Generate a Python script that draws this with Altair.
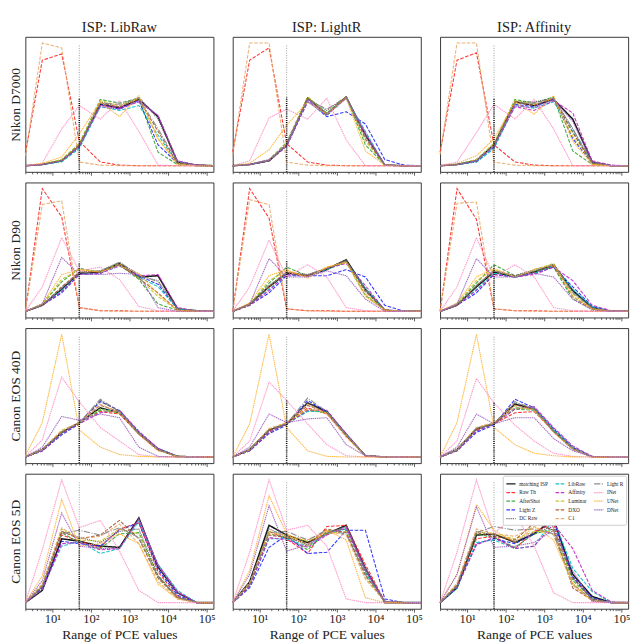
import altair as alt
import pandas as pd

FONT = "Liberation Serif"

# PCE bin positions (x, log scale) and the decision threshold
PCE_BINS = [2, 5.5, 17.5, 50, 175, 550, 1750, 5500, 17500, 55000, 150000]
THRESHOLD = 50
MAJOR_TICKS = [10, 100, 1000, 10000, 100000]
MAJOR_LABELS = ["10¹", "10²", "10³", "10⁴", "10⁵"]

CAMERAS = ["Nikon D7000", "Nikon D90", "Canon EOS 40D", "Canon EOS 5D"]
ISPS = ["LibRaw", "LightR", "Affinity"]

SERIES = ["matching ISP", "Raw Th", "AfterShot", "Light Z", "DC Raw",
          "LibRaw", "Affinity", "Luminar", "DXO", "C1",
          "Light R", "INet", "UNet", "DNet"]
COLORS = ["#000000", "#ff2020", "#2ca02c", "#1f1fff", "#555555",
          "#00bfbf", "#c020c0", "#c8c020", "#a0522d", "#e8a868",
          "#808080", "#ff8fc8", "#ffb030", "#9a5fc0"]
DASHES = [[1, 0], [3.7, 1.6], [3.7, 1.6], [3.7, 1.6], [1.2, 1],
          [3.7, 1.6], [3.7, 1.6], [3.7, 1.6], [3.7, 1.6], [3.7, 1.6],
          [6.4, 1.6, 1, 1.6], [1.5, 0.7], [1.5, 0.7], [1.5, 0.7]]

# frequency values (each panel normalised so its highest curve = 100)
D7000_LIBRAW = {
    "matching ISP": [0, 1, 4, 16, 50, 47, 54, 40, 3, 0.5, 0],
    "Raw Th": [10, 86, 91, 20, 3, 0.5, 0, 0, 0, 0, 0],
    "AfterShot": [0, 1, 5, 18, 54, 51, 55, 11, 1, 0, 0],
    "Light Z": [0, 1, 4, 15, 50, 46, 53, 17, 2, 0, 0],
    "DC Raw": [0, 1, 4, 16, 52, 48, 56, 38, 3, 0.5, 0],
    "LibRaw": [0, 1, 3, 14, 48, 45, 49, 25, 2, 0, 0],
    "Affinity": [0, 1, 4, 16, 49, 47, 52, 41, 4, 0.5, 0],
    "Luminar": [0, 1, 5, 18, 53, 49, 55, 22, 2, 0, 0],
    "DXO": [0, 1, 4, 17, 51, 48, 54, 28, 2, 0, 0],
    "C1": [8, 100, 96, 3, 0.5, 0, 0, 0, 0, 0, 0],
    "Light R": [0, 1, 4, 16, 51, 50, 55, 30, 3, 0.5, 0],
    "INet": [0, 2, 30, 49, 38, 53, 28, 0.5, 0, 0, 0],
    "UNet": [0, 2, 7, 26, 52, 40, 57, 22, 1, 0, 0],
    "DNet": [0, 1, 4, 16, 48, 46, 53, 41, 4, 0.5, 0],
}
D7000_LIGHTR = {
    "matching ISP": [0, 1, 4, 17, 55, 42, 56, 25, 0.5, 0, 0],
    "Raw Th": [11, 86, 96, 18, 3, 0.5, 0, 0, 0, 0, 0],
    "AfterShot": [0, 1, 5, 19, 56, 43, 56, 17, 0.5, 0, 0],
    "Light Z": [0, 1, 4, 16, 53, 40, 44, 34, 5, 0.5, 0],
    "DC Raw": [0, 1, 4, 17, 55, 45, 56, 24, 0.5, 0, 0],
    "LibRaw": [0, 1, 4, 16, 52, 41, 55, 28, 0.5, 0, 0],
    "Affinity": [0, 1, 4, 16, 52, 42, 55, 26, 0.5, 0, 0],
    "Luminar": [0, 1, 5, 18, 56, 42, 56, 20, 0.5, 0, 0],
    "DXO": [0, 1, 4, 17, 55, 41, 56, 22, 0.5, 0, 0],
    "C1": [9, 100, 100, 3, 0.5, 0, 0, 0, 0, 0, 0],
    "Light R": [0, 1, 4, 17, 54, 46, 56, 24, 0.5, 0, 0],
    "INet": [0, 4, 39, 46, 38, 55, 21, 0, 0, 0, 0],
    "UNet": [0, 2, 13, 33, 52, 42, 55, 12, 0.5, 0, 0],
    "DNet": [0, 1, 5, 17, 54, 42, 55, 27, 0.5, 0, 0],
}
D7000_AFFINITY = {
    "matching ISP": [0, 1, 4, 17, 52, 49, 54, 38, 3, 0, 0],
    "Raw Th": [11, 86, 92, 17, 3, 0.5, 0, 0, 0, 0, 0],
    "AfterShot": [0, 1, 5, 18, 54, 51, 56, 12, 1, 0, 0],
    "Light Z": [0, 1, 3, 15, 50, 48, 55, 22, 2, 0, 0],
    "DC Raw": [0, 1, 4, 16, 52, 52, 55, 30, 2, 0, 0],
    "LibRaw": [0, 1, 3, 14, 49, 47, 52, 28, 2, 0, 0],
    "Affinity": [0, 1, 4, 16, 48, 45, 53, 43, 4, 0.5, 0],
    "Luminar": [0, 1, 5, 18, 53, 50, 55, 24, 2, 0, 0],
    "DXO": [0, 1, 4, 17, 52, 49, 55, 27, 2, 0, 0],
    "C1": [9, 100, 100, 3, 0.5, 0, 0, 0, 0, 0, 0],
    "Light R": [0, 1, 4, 16, 51, 51, 55, 30, 3, 0, 0],
    "INet": [0, 3, 27, 50, 38, 54, 30, 0, 0, 0, 0],
    "UNet": [0, 2, 8, 22, 52, 42, 57, 20, 1, 0, 0],
    "DNet": [0, 1, 4, 16, 49, 47, 54, 36, 3, 0, 0],
}
D90_LIBRAW = {
    "matching ISP": [0, 5, 18, 31, 32, 39, 28, 29, 2, 0.5, 0],
    "Raw Th": [0, 100, 77, 3, 0.5, 0.5, 0, 0, 0, 0, 0],
    "AfterShot": [0, 6, 24, 35, 32, 38, 26, 6, 1, 0, 0],
    "Light Z": [0, 5, 15, 30, 31, 37, 29, 22, 2, 0, 0],
    "DC Raw": [0, 5, 19, 32, 33, 40, 29, 25, 2, 0.5, 0],
    "LibRaw": [0, 5, 17, 30, 31, 38, 28, 20, 2, 0.5, 0],
    "Affinity": [0, 5, 16, 30, 31, 38, 29, 30, 3, 0.5, 0],
    "Luminar": [0, 6, 26, 34, 32, 39, 27, 12, 1, 0, 0],
    "DXO": [0, 5, 20, 32, 32, 38, 27, 15, 1, 0, 0],
    "C1": [0, 87, 90, 3, 0.5, 0, 0, 0, 0, 0, 0],
    "Light R": [0, 5, 19, 31, 33, 40, 30, 24, 2, 0.5, 0],
    "INet": [0, 20, 60, 33, 36, 26, 4, 0.5, 0, 0, 0],
    "UNet": [0, 6, 30, 34, 32, 37, 31, 14, 1, 0, 0],
    "DNet": [0, 6, 44, 30, 30, 31, 30, 3, 0, 0, 0],
}
D90_LIGHTR = {
    "matching ISP": [0, 6, 20, 31, 29, 34, 42, 18, 1, 0, 0],
    "Raw Th": [0, 100, 76, 2, 0.5, 0.5, 0, 0, 0, 0, 0],
    "AfterShot": [0, 6, 23, 36, 29, 35, 40, 13, 1, 0, 0],
    "Light Z": [0, 5, 15, 29, 29, 29, 34, 28, 5, 0, 0],
    "DC Raw": [0, 6, 21, 32, 30, 35, 42, 17, 1, 0, 0],
    "LibRaw": [0, 5, 18, 30, 29, 34, 40, 19, 1, 0, 0],
    "Affinity": [0, 5, 17, 30, 29, 35, 39, 21, 1, 0, 0],
    "Luminar": [0, 6, 25, 33, 28, 36, 40, 14, 1, 0, 0],
    "DXO": [0, 5, 20, 32, 29, 35, 41, 16, 1, 0, 0],
    "C1": [0, 91, 87, 2, 0.5, 0, 0, 0, 0, 0, 0],
    "Light R": [0, 6, 21, 31, 30, 35, 41, 18, 1, 0, 0],
    "INet": [0, 20, 58, 28, 38, 28, 3, 0.5, 0, 0, 0],
    "UNet": [0, 7, 29, 34, 27, 36, 40, 12, 1, 0, 0],
    "DNet": [0, 6, 43, 28, 28, 33, 29, 10, 0, 0, 0],
}
D90_AFFINITY = {
    "matching ISP": [0, 5, 20, 32, 28, 32, 38, 17, 3, 0, 0],
    "Raw Th": [0, 100, 75, 2, 0.5, 0.5, 0, 0, 0, 0, 0],
    "AfterShot": [0, 6, 23, 38, 29, 33, 36, 10, 2, 0, 0],
    "Light Z": [0, 5, 15, 30, 28, 31, 36, 20, 4, 0, 0],
    "DC Raw": [0, 5, 21, 33, 29, 34, 38, 16, 3, 0, 0],
    "LibRaw": [0, 5, 18, 31, 28, 31, 37, 18, 4, 0, 0],
    "Affinity": [0, 5, 17, 30, 28, 30, 36, 25, 5, 0.5, 0],
    "Luminar": [0, 6, 25, 34, 28, 34, 39, 14, 2, 0, 0],
    "DXO": [0, 5, 21, 33, 29, 32, 37, 12, 2, 0, 0],
    "C1": [0, 88, 89, 2, 0.5, 0, 0, 0, 0, 0, 0],
    "Light R": [0, 5, 21, 33, 29, 33, 38, 15, 3, 0, 0],
    "INet": [0, 20, 60, 28, 38, 28, 3, 0.5, 0, 0, 0],
    "UNet": [0, 7, 28, 35, 28, 34, 38, 12, 2, 0, 0],
    "DNet": [0, 6, 43, 28, 28, 31, 28, 10, 1, 0, 0],
}
EOS40D_LIBRAW = {
    "matching ISP": [0, 6, 20, 28, 40, 36, 19, 6, 0.5, 0, 0],
    "Raw Th": [0, 5, 19, 28, 37, 35, 19, 6, 0.5, 0, 0],
    "AfterShot": [0, 6, 21, 28, 38, 36, 20, 6, 0.5, 0, 0],
    "Light Z": [0, 5, 18, 27, 45, 38, 20, 7, 0.5, 0, 0],
    "DC Raw": [0, 6, 20, 28, 46, 37, 20, 6, 0.5, 0, 0],
    "LibRaw": [0, 5, 19, 27, 39, 37, 20, 7, 0.5, 0, 0],
    "Affinity": [0, 5, 19, 27, 36, 38, 21, 7, 0.5, 0, 0],
    "Luminar": [0, 6, 21, 28, 39, 36, 19, 6, 0.5, 0, 0],
    "DXO": [0, 6, 20, 28, 42, 37, 19, 6, 0.5, 0, 0],
    "C1": [0, 6, 22, 28, 43, 36, 18, 5, 0.5, 0, 0],
    "Light R": [0, 6, 20, 28, 47, 37, 19, 6, 0.5, 0, 0],
    "INet": [0, 14, 65, 45, 24, 13, 2, 0, 0, 0, 0],
    "UNet": [1, 28, 100, 22, 8, 2, 0.5, 0, 0, 0, 0],
    "DNet": [0, 8, 33, 30, 35, 32, 8, 0.5, 0, 0, 0],
}
EOS40D_LIGHTR = {
    "matching ISP": [0, 6, 22, 27, 44, 37, 18, 1, 0, 0, 0],
    "Raw Th": [0, 5, 21, 27, 40, 35, 18, 1, 0, 0, 0],
    "AfterShot": [0, 6, 22, 27, 38, 36, 18, 1, 0, 0, 0],
    "Light Z": [0, 5, 19, 26, 46, 37, 19, 1, 0, 0, 0],
    "DC Raw": [0, 6, 22, 27, 44, 36, 18, 1, 0, 0, 0],
    "LibRaw": [0, 5, 20, 27, 37, 37, 18, 1, 0, 0, 0],
    "Affinity": [0, 5, 20, 27, 38, 38, 19, 1, 0, 0, 0],
    "Luminar": [0, 6, 23, 28, 39, 36, 18, 1, 0, 0, 0],
    "DXO": [0, 6, 22, 27, 42, 36, 17, 1, 0, 0, 0],
    "C1": [0, 6, 23, 28, 43, 35, 16, 1, 0, 0, 0],
    "Light R": [0, 6, 22, 27, 48, 37, 18, 1, 0, 0, 0],
    "INet": [0, 13, 61, 46, 27, 10, 1, 0, 0, 0, 0],
    "UNet": [0, 27, 100, 24, 5, 0.5, 0, 0, 0, 0, 0],
    "DNet": [0, 8, 35, 28, 31, 32, 10, 1, 0, 0, 0],
}
EOS40D_AFFINITY = {
    "matching ISP": [0, 6, 23, 27, 43, 39, 21, 7, 0, 0, 0],
    "Raw Th": [0, 5, 22, 27, 36, 37, 21, 7, 0, 0, 0],
    "AfterShot": [0, 6, 23, 27, 39, 38, 22, 7, 0, 0, 0],
    "Light Z": [0, 5, 20, 26, 47, 40, 23, 8, 0, 0, 0],
    "DC Raw": [0, 6, 23, 27, 44, 39, 22, 7, 0, 0, 0],
    "LibRaw": [0, 5, 21, 27, 40, 40, 22, 8, 0, 0, 0],
    "Affinity": [0, 5, 21, 27, 39, 41, 24, 9, 0.5, 0, 0],
    "Luminar": [0, 6, 24, 28, 40, 39, 21, 7, 0, 0, 0],
    "DXO": [0, 6, 23, 27, 42, 39, 21, 6, 0, 0, 0],
    "C1": [0, 6, 24, 28, 42, 38, 20, 6, 0, 0, 0],
    "Light R": [0, 6, 23, 27, 45, 39, 21, 7, 0, 0, 0],
    "INet": [0, 13, 64, 44, 26, 13, 3, 0.5, 0, 0, 0],
    "UNet": [0, 28, 100, 24, 10, 3, 1, 0, 0, 0, 0],
    "DNet": [0, 8, 35, 27, 32, 32, 15, 5, 0.5, 0, 0],
}
EOS5D_LIBRAW = {
    "matching ISP": [0, 10, 52, 50, 46, 45, 69, 29, 8, 0, 0],
    "Raw Th": [0, 12, 55, 50, 45, 60, 65, 25, 5, 0, 0],
    "AfterShot": [0, 13, 57, 49, 44, 56, 57, 22, 4, 0, 0],
    "Light Z": [0, 12, 50, 48, 46, 59, 65, 27, 6, 0, 0],
    "DC Raw": [0, 13, 58, 53, 49, 58, 60, 22, 4, 0, 0],
    "LibRaw": [0, 11, 46, 50, 40, 44, 66, 31, 10, 0, 0],
    "Affinity": [0, 11, 48, 49, 43, 44, 68, 31, 9, 0, 0],
    "Luminar": [0, 15, 60, 51, 50, 60, 56, 20, 4, 0, 0],
    "DXO": [0, 14, 58, 52, 55, 67, 52, 20, 4, 0, 0],
    "C1": [0, 15, 61, 52, 54, 64, 48, 17, 3, 0, 0],
    "Light R": [0, 13, 56, 59, 55, 61, 53, 21, 4, 0, 0],
    "INet": [0, 43, 100, 61, 67, 42, 10, 0, 0, 0, 0],
    "UNet": [0, 22, 84, 46, 48, 56, 48, 15, 3, 0, 0],
    "DNet": [0, 18, 73, 46, 44, 44, 68, 30, 8, 0, 0],
}
EOS5D_LIGHTR = {
    "matching ISP": [0, 17, 63, 55, 49, 56, 63, 28, 0, 0, 0],
    "Raw Th": [0, 14, 58, 52, 40, 62, 63, 31, 1, 0, 0],
    "AfterShot": [0, 15, 56, 53, 43, 58, 60, 25, 1, 0, 0],
    "Light Z": [0, 12, 45, 55, 40, 41, 59, 59, 3, 0, 0],
    "DC Raw": [0, 16, 60, 54, 47, 57, 62, 27, 1, 0, 0],
    "LibRaw": [0, 13, 52, 52, 46, 56, 60, 24, 1, 0, 0],
    "Affinity": [0, 13, 53, 51, 45, 55, 61, 26, 1, 0, 0],
    "Luminar": [0, 16, 58, 54, 50, 56, 58, 20, 1, 0, 0],
    "DXO": [0, 15, 55, 53, 48, 60, 57, 22, 1, 0, 0],
    "C1": [0, 16, 56, 55, 51, 58, 55, 19, 1, 0, 0],
    "Light R": [0, 15, 57, 58, 51, 59, 56, 23, 1, 0, 0],
    "INet": [0, 41, 100, 59, 63, 46, 3, 0, 0, 0, 0],
    "UNet": [0, 26, 87, 56, 46, 59, 51, 4, 0, 0, 0],
    "DNet": [0, 23, 79, 42, 47, 56, 62, 28, 1, 0, 0],
}
EOS5D_AFFINITY = {
    "matching ISP": [0, 12, 55, 56, 49, 56, 68, 23, 5, 0, 0],
    "Raw Th": [0, 13, 52, 54, 44, 58, 64, 20, 3, 0, 0],
    "AfterShot": [0, 14, 56, 53, 45, 56, 60, 18, 3, 0, 0],
    "Light Z": [0, 12, 48, 52, 48, 56, 67, 21, 4, 0, 0],
    "DC Raw": [0, 14, 58, 55, 50, 57, 62, 20, 3, 0, 0],
    "LibRaw": [0, 12, 49, 51, 44, 46, 68, 28, 9, 0, 0],
    "Affinity": [0, 13, 47, 53, 44, 46, 64, 44, 10, 0.5, 0],
    "Luminar": [0, 15, 58, 56, 52, 58, 58, 16, 2, 0, 0],
    "DXO": [0, 14, 57, 54, 51, 65, 59, 12, 2, 0, 0],
    "C1": [0, 16, 60, 56, 54, 62, 55, 14, 2, 0, 0],
    "Light R": [0, 14, 57, 62, 59, 60, 56, 15, 2, 0, 0],
    "INet": [0, 41, 100, 56, 72, 46, 8, 0, 0, 0, 0],
    "UNet": [0, 23, 80, 59, 49, 62, 51, 15, 1, 0, 0],
    "DNet": [0, 23, 78, 45, 46, 49, 59, 26, 1, 0, 0],
}

PANELS = [
    [D7000_LIBRAW, D7000_LIGHTR, D7000_AFFINITY],
    [D90_LIBRAW, D90_LIGHTR, D90_AFFINITY],
    [EOS40D_LIBRAW, EOS40D_LIGHTR, EOS40D_AFFINITY],
    [EOS5D_LIBRAW, EOS5D_LIGHTR, EOS5D_AFFINITY],
]
# height of the dark part of the threshold marker in each panel
MARK_HEIGHT = [[55, 56, 55], [39, 41, 38], [46, 46, 45], [61, 59, 56]]

MINOR_TICKS = sorted(set(m * 10 ** k for k in range(0, 5) for m in range(2, 10)
                         if 2 <= m * 10 ** k <= 150000))

label_expr = " : ".join(
    f"datum.value == {v} ? '{l}'" for v, l in zip(MAJOR_TICKS, MAJOR_LABELS)
) + " : ''"

W, H = 195, 140


def panel(r, c):
    data = PANELS[r][c]
    rows = []
    for s in SERIES:
        for x, v in zip(PCE_BINS, data[s]):
            rows.append({"series": s, "pce": x, "freq": v})
    df = pd.DataFrame(rows)
    bottom = r == len(CAMERAS) - 1

    minor_axis = alt.Axis(values=MINOR_TICKS, orient="bottom", labels=False, title=None,
                          grid=False, domain=False, tickColor="#333", tickWidth=0.8,
                          tickSize=2)
    major_axis = alt.Axis(
        values=MAJOR_TICKS, orient="bottom",
        labelExpr=label_expr,
        labels=bottom,
        labelOverlap=False,
        labelFont=FONT, labelFontSize=13, labelColor="#222",
        labelPadding=1,
        title="Range of PCE values" if bottom else None,
        titleFont=FONT, titleFontSize=14, titleFontWeight="normal",
        titleColor="#222", titlePadding=2,
        grid=False, domain=False,
        tickColor="#333", tickWidth=0.8, tickSize=3.5,
    )
    if c == 0:
        yaxis = alt.Axis(title=CAMERAS[r], labels=False, ticks=False, domain=False,
                         grid=False, titleFont=FONT, titleFontSize=14,
                         titleFontWeight="normal", titleColor="#222", titlePadding=3)
    else:
        yaxis = None
    show_legend = (r == 3 and c == 2)
    legend = alt.Legend(
        title=None, orient="top-right", columns=3, symbolType="stroke",
        symbolSize=90, symbolStrokeWidth=1.3, labelFont=FONT, labelFontSize=5.5,
        labelColor="#222", rowPadding=-2, columnPadding=5, padding=3, offset=2,
        fillColor="white", strokeColor="#cccccc", cornerRadius=2, labelLimit=60,
        labelOffset=3,
    ) if show_legend else None

    xs = alt.Scale(type="log", domain=[2, 150000], nice=False)
    ys = alt.Scale(domain=[-5, 105], nice=False, zero=False)

    lines = alt.Chart(df).mark_line(opacity=0.9).encode(
        x=alt.X("pce:Q", scale=xs, axis=major_axis),
        y=alt.Y("freq:Q", scale=ys, axis=yaxis),
        color=alt.Color("series:N",
                        scale=alt.Scale(domain=SERIES, range=COLORS),
                        legend=legend),
        strokeDash=alt.StrokeDash("series:N",
                                  scale=alt.Scale(domain=SERIES, range=DASHES),
                                  legend=legend),
        strokeWidth=alt.condition("datum.series == 'matching ISP'",
                                  alt.value(1.6), alt.value(1.1)),
    )

    light_df = pd.DataFrame({"pce": [THRESHOLD], "y0": [-5], "y1": [98]})
    dark_df = pd.DataFrame({"pce": [THRESHOLD], "y0": [-5], "y1": [MARK_HEIGHT[r][c]]})
    light = alt.Chart(light_df).mark_rule(
        color="#9a9a9a", strokeDash=[1, 1.5], strokeWidth=1
    ).encode(x=alt.X("pce:Q", scale=xs, axis=minor_axis),
             y=alt.Y("y0:Q", scale=ys, axis=yaxis), y2="y1:Q")
    dark = alt.Chart(dark_df).mark_rule(
        color="#111", strokeDash=[1, 1.2], strokeWidth=1.6
    ).encode(x=alt.X("pce:Q", scale=xs, axis=None),
             y=alt.Y("y0:Q", scale=ys, axis=yaxis), y2="y1:Q")

    layer = alt.layer(light, lines, dark).resolve_axis(x="independent").properties(
        width=W, height=H)
    if r == 0:
        layer = layer.properties(title=alt.TitleParams(
            f"ISP: {ISPS[c]}", font=FONT, fontSize=15, fontWeight="normal",
            color="#222", offset=2))
    return layer


charts = [panel(r, c) for r in range(len(CAMERAS)) for c in range(len(ISPS))]

chart = alt.concat(*charts, columns=3, spacing={"row": 5, "column": 12}).resolve_legend(
    color="independent", strokeDash="independent"
).configure_view(
    stroke="#333", strokeWidth=1
).configure_title(
    font=FONT, fontSize=15, fontWeight="normal", color="#222", offset=2
).configure_axis(
    labelFont=FONT, titleFont=FONT, titleFontWeight="normal"
).configure_legend(
    labelFont=FONT
).properties(padding=0)

chart.save("out.html", embed_options={"renderer": "svg", "actions": False})
